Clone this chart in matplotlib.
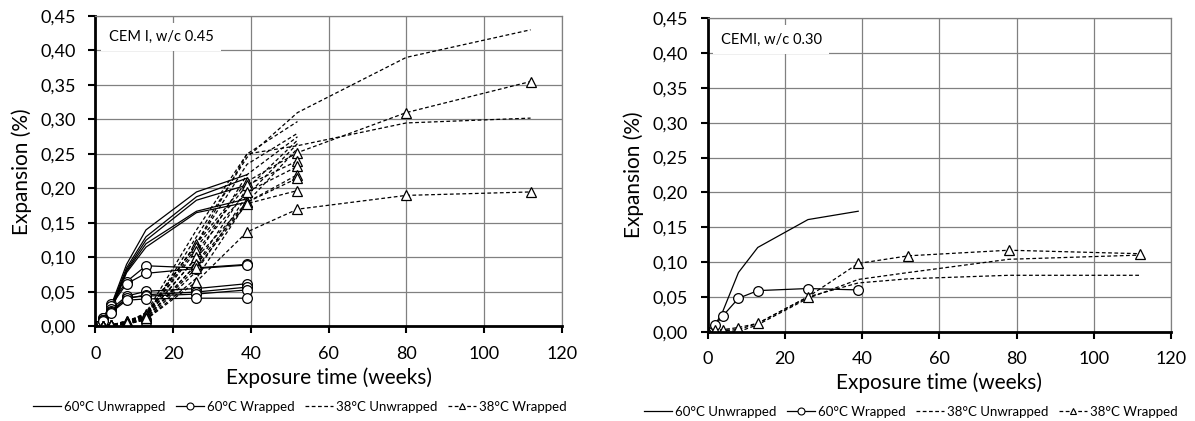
import matplotlib
matplotlib.use('Agg')
import matplotlib.pyplot as plt
from matplotlib.ticker import FuncFormatter, MultipleLocator
from matplotlib.lines import Line2D

plt.rcParams['font.family'] = ['Lato', 'DejaVu Sans']

# exposure times (weeks)
weeks_60 = [0, 2, 4, 8, 13, 26, 39]
weeks_38 = [0, 2, 4, 8, 13, 26, 39, 52]
weeks_38_long = [0, 2, 4, 8, 13, 26, 39, 52, 80, 112]
weeks_38_long_r = [0, 2, 4, 8, 13, 26, 39, 52, 78, 112]

# CEM I, w/c 0.45 - expansion (%)
left_60u = [
    [0, 0.010, 0.030, 0.090, 0.140, 0.195, 0.220],
    [0, 0.010, 0.028, 0.085, 0.130, 0.188, 0.215],
    [0, 0.008, 0.025, 0.082, 0.125, 0.183, 0.205],
    [0, 0.008, 0.025, 0.080, 0.120, 0.167, 0.185],
    [0, 0.007, 0.022, 0.078, 0.115, 0.165, 0.180],
]
left_60w = [
    [0, 0.013, 0.033, 0.065, 0.088, 0.085, 0.090],
    [0, 0.012, 0.030, 0.062, 0.077, 0.084, 0.089],
    [0, 0.010, 0.025, 0.044, 0.051, 0.055, 0.062],
    [0, 0.010, 0.022, 0.040, 0.046, 0.050, 0.057],
    [0, 0.009, 0.021, 0.042, 0.044, 0.047, 0.053],
    [0, 0.008, 0.020, 0.038, 0.040, 0.041, 0.041],
]
left_38u_long = [
    [0, 0, 0.002, 0.005, 0.015, 0.130, 0.245, 0.310, 0.390, 0.430],
    [0, 0, 0.002, 0.006, 0.020, 0.140, 0.250, 0.262, 0.295, 0.302],
]
left_38u = [
    [0, 0, 0.002, 0.006, 0.018, 0.120, 0.250, 0.297],
    [0, 0, 0.002, 0.005, 0.018, 0.120, 0.235, 0.280],
    [0, 0, 0.002, 0.005, 0.015, 0.100, 0.220, 0.275],
    [0, 0, 0.002, 0.004, 0.012, 0.090, 0.200, 0.270],
    [0, 0, 0.001, 0.004, 0.010, 0.080, 0.190, 0.265],
    [0, 0, 0.001, 0.003, 0.010, 0.070, 0.180, 0.258],
]
left_38w_long = [
    [0, 0.001, 0.002, 0.008, 0.018, 0.120, 0.210, 0.252, 0.310, 0.355],
    [0, 0.001, 0.002, 0.004, 0.010, 0.065, 0.137, 0.170, 0.190, 0.195],
]
left_38w = [
    [0, 0.001, 0.002, 0.007, 0.015, 0.115, 0.205, 0.240],
    [0, 0.001, 0.002, 0.008, 0.016, 0.110, 0.195, 0.232],
    [0, 0.001, 0.002, 0.006, 0.014, 0.100, 0.180, 0.220],
    [0, 0.001, 0.002, 0.005, 0.012, 0.090, 0.180, 0.215],
    [0, 0.001, 0.002, 0.005, 0.012, 0.085, 0.178, 0.197],
]

# CEMI, w/c 0.30 - expansion (%)
right_60u = [[0, 0.010, 0.030, 0.085, 0.121, 0.161, 0.173]]
right_60w = [[0, 0.010, 0.023, 0.048, 0.059, 0.062, 0.060]]
right_38u_long = [
    [0, 0, 0.002, 0.000, 0.010, 0.048, 0.075, 0.085, 0.104, 0.110],
    [0, 0, 0.002, 0.003, 0.012, 0.050, 0.070, 0.076, 0.081, 0.081],
]
right_38w_long = [[0, 0.002, 0.003, 0.006, 0.012, 0.050, 0.098, 0.109, 0.117, 0.112]]

labels = ['60°C Unwrapped', '60°C Wrapped', '38°C Unwrapped', '38°C Wrapped']
styles = [
    dict(ls='-', marker=None),
    dict(ls='-', marker='o'),
    dict(ls=(0, (3, 2)), marker=None),
    dict(ls=(0, (3, 2)), marker='^'),
]


def draw(ax, x, y, st):
    ax.plot(x, y, color='black', lw=0.9, ls=st['ls'], marker=st['marker'],
            ms=7, mfc='white', mec='black', mew=0.9)


def style_axes(ax, note):
    ax.set_xlim(0, 120)
    ax.set_ylim(0, 0.45)
    ax.xaxis.set_major_locator(MultipleLocator(20))
    ax.yaxis.set_major_locator(MultipleLocator(0.05))
    ax.yaxis.set_major_formatter(FuncFormatter(lambda v, p: ('%.2f' % v).replace('.', ',')))
    ax.grid(True, color='#808080', lw=0.9)
    ax.set_axisbelow(True)
    for s in ['top', 'right']:
        ax.spines[s].set_color('#808080')
        ax.spines[s].set_linewidth(0.9)
    for s in ['left', 'bottom']:
        ax.spines[s].set_color('black')
        ax.spines[s].set_linewidth(2)
    ax.tick_params(axis='both', direction='out', length=5, width=1.5, labelsize=13)
    ax.tick_params(axis='x', pad=9)
    ax.tick_params(axis='y', pad=9)
    ax.set_xlabel('Exposure time (weeks)', fontsize=15, labelpad=4)
    ax.set_ylabel('Expansion (%)', fontsize=15, labelpad=6)
    ax.text(0.028, 0.955, note, transform=ax.transAxes, fontsize=10.5, va='top', ha='left',
            bbox=dict(boxstyle='square,pad=0.5', fc='white', ec='none'), zorder=5)


fig = plt.figure(figsize=(11.95, 4.21), dpi=100)
ax1 = fig.add_axes([0.0799, 0.2245, 0.3901, 0.7375])
ax2 = fig.add_axes([0.5921, 0.2121, 0.3879, 0.7444])

for y in left_60u:
    draw(ax1, weeks_60, y, styles[0])
for y in left_60w:
    draw(ax1, weeks_60, y, styles[1])
for y in left_38u_long:
    draw(ax1, weeks_38_long, y, styles[2])
for y in left_38u:
    draw(ax1, weeks_38, y, styles[2])
for y in left_38w_long:
    draw(ax1, weeks_38_long, y, styles[3])
for y in left_38w:
    draw(ax1, weeks_38, y, styles[3])

for y in right_60u:
    draw(ax2, weeks_60, y, styles[0])
for y in right_60w:
    draw(ax2, weeks_60, y, styles[1])
for y in right_38u_long:
    draw(ax2, weeks_38_long_r, y, styles[2])
for y in right_38w_long:
    draw(ax2, weeks_38_long_r, y, styles[3])

style_axes(ax1, 'CEM I, w/c 0.45')
style_axes(ax2, 'CEMI, w/c 0.30')

handles = [Line2D([], [], color='black', lw=0.9, ls=st['ls'], marker=st['marker'],
                  ms=5, mfc='white', mec='black', mew=0.8) for st in styles]
leg_kw = dict(loc='center', ncol=4, frameon=False, fontsize=9.5, handlelength=2.1,
              handletextpad=0.25, columnspacing=0.8, borderpad=0, borderaxespad=0)
fig.legend(handles, labels, bbox_to_anchor=(300 / 1195, 1 - 407 / 421), **leg_kw)
fig.legend(handles, labels, bbox_to_anchor=(911 / 1195, 1 - 412 / 421), **leg_kw)

fig.savefig('out.png', dpi=100)
